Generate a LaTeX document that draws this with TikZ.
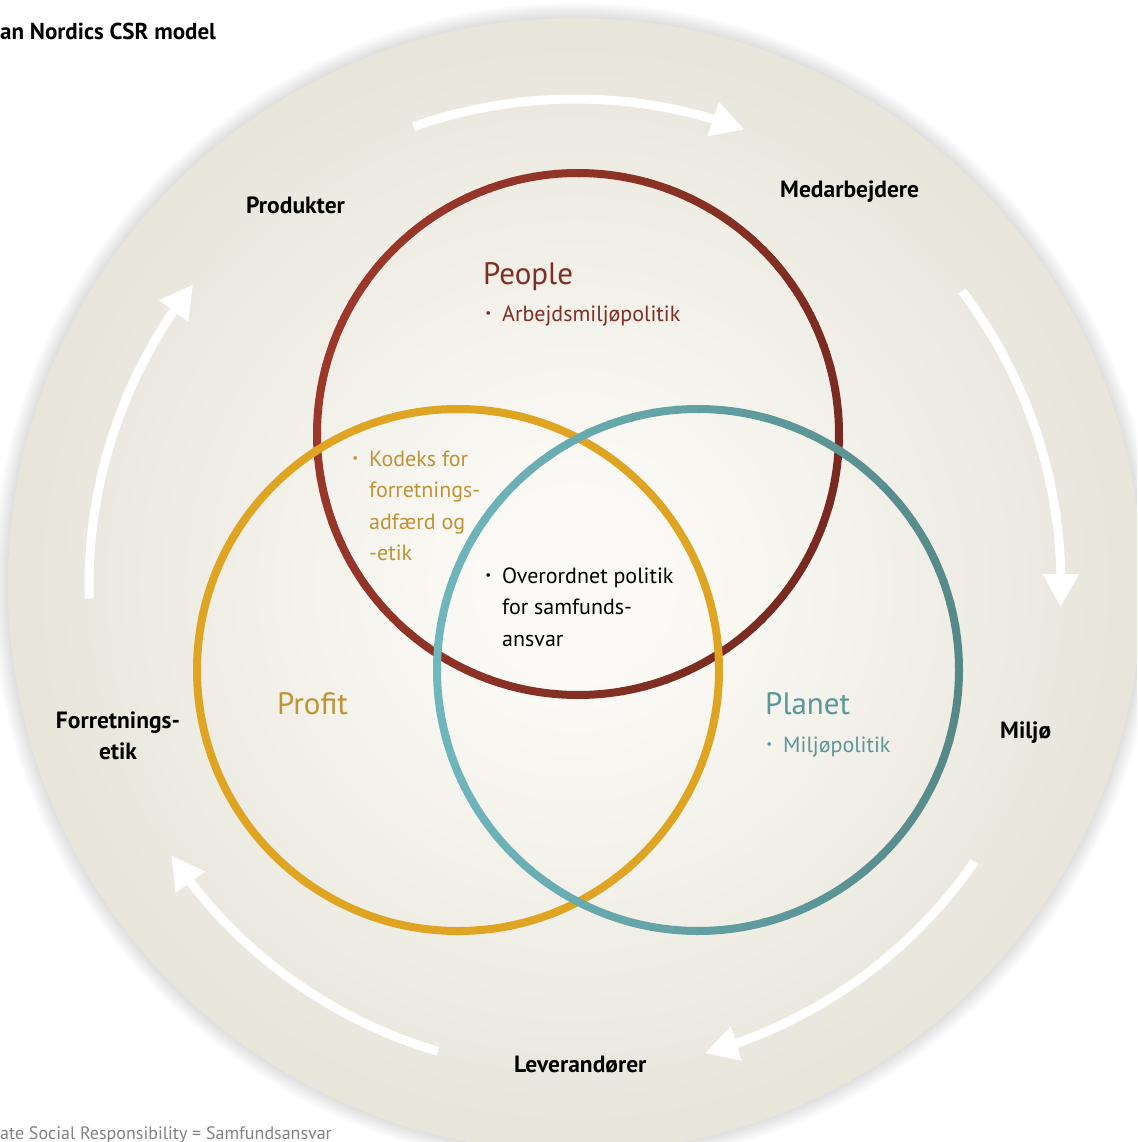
\documentclass[tikz,border=0pt]{standalone}
\usepackage{fontspec}
\setmainfont{PT Sans}
\usetikzlibrary{arrows.meta,bending}

\definecolor{bgA}{RGB}{251,250,246}
\definecolor{bgB}{RGB}{232,230,219}
\definecolor{bgM}{RGB}{224,222,208}
\definecolor{bgC}{RGB}{217,214,198}
\definecolor{rlight}{RGB}{156,55,42}
\definecolor{rdark}{RGB}{120,42,33}
\definecolor{venny}{RGB}{223,165,34}
\definecolor{tlight}{RGB}{111,183,189}
\definecolor{tdark}{RGB}{86,136,137}
\definecolor{peopletxt}{RGB}{128,45,38}
\definecolor{goldtxt}{RGB}{192,147,52}
\definecolor{planettxt}{RGB}{91,150,153}
\definecolor{foottxt}{RGB}{130,130,130}

\pgfdeclareradialshading{bgshade}{\pgfpoint{0bp}{0bp}}{color(0bp)=(bgA); color(4bp)=(bgA); color(24bp)=(bgB); color(40bp)=(bgM); color(50bp)=(bgC)}

\newcommand\mybul{\llap{\raisebox{3.5pt}{\fontsize{13}{13}\selectfont •}\hspace{11pt}}}

\tikzset{
  lab/.style={font=\bfseries\fontsize{23.5}{31}\selectfont, text=black, inner sep=0pt},
  bigname/.style={font=\fontsize{31}{36}\selectfont, inner sep=0pt, anchor=base west},
  small/.style={font=\fontsize{22}{31.5}\selectfont, inner sep=0pt, anchor=base west},
  cyclearrow/.style={draw=white, line width=9pt, -{Triangle[width=34pt,length=33pt,flex]}},
}

\begin{document}
\begin{tikzpicture}[x=1pt,y=-1pt]
\useasboundingbox (0,0) rectangle (1137,1142);
\clip (0,0) rectangle (1137,1142);
\fill[white] (0,0) rectangle (1137,1142);

% soft shadow around the disc
\foreach \i in {1,...,16}{
  \fill[black,opacity=0.008] (575,585) circle[radius=567+\i];
}
% shaded disc
\shade[shading=bgshade] (575,585) circle[radius=567];

% cycle arrows
\foreach \s in {-109.4,-37.2,34.7,106.4,178.4}{
  \draw[cyclearrow] (575,585) ++(\s:486) arc[start angle=\s, delta angle=39.8, radius=486];
}

% People circle (red, shaded along the ring)
\foreach \a in {0,5,...,355}{
  \pgfmathsetmacro\mixp{100*(1+cos(\a+2.5-20))/2}
  \draw[line width=8pt, color=rdark!\mixp!rlight] (578,434) ++(\a:261) arc[start angle=\a, delta angle=5.4, radius=261];
}
% Profit circle
\draw[line width=8pt, venny] (458,670) circle[radius=261];
% Planet circle
\foreach \a in {0,5,...,355}{
  \pgfmathsetmacro\mixp{100*(1+cos(\a+2.5))/2}
  \draw[line width=8pt, color=tdark!\mixp!tlight] (698,670) ++(\a:261) arc[start angle=\a, delta angle=5.4, radius=261];
}

% title and footnote
\node[anchor=base west, font=\bfseries\fontsize{23}{28}\selectfont, inner sep=0pt] (title) at (0,40) {an Nordics CSR model};
\node[anchor=base west, text=foottxt, font=\fontsize{18}{20}\selectfont, inner sep=0pt] (foot) at (0,1139) {ate Social Responsibility = Samfundsansvar};

% outer labels
\node[lab, anchor=base west] (produkter) at (246,213) {Produkter};
\node[lab, anchor=base west] (medarb) at (780,197) {Medarbejdere};
\node[lab, anchor=base west] (miljo) at (1000,738) {Miljø};
\node[lab, anchor=base west] (lev) at (514,1072) {Leverandører};
\node[lab, anchor=base] (forr) at (118,728) {\begin{tabular}[t]{@{}c@{}}Forretnings-\\etik\end{tabular}};

% Venn texts
\node[bigname, text=peopletxt] (people) at (483,284) {People};
\node[small, text=peopletxt] (arb) at (502,321) {\mybul Arbejdsmiljøpolitik};
\node[small, text=goldtxt] (kodeks) at (369,466) {\begin{tabular}[t]{@{}l@{}}\mybul Kodeks for\\forretnings-\\adfærd og\\-etik\end{tabular}};
\node[small, text=black] (over) at (502,583) {\begin{tabular}[t]{@{}l@{}}\mybul Overordnet politik\\for samfunds-\\ansvar\end{tabular}};
\node[bigname, text=goldtxt] (profit) at (277,714) {Profit};
\node[bigname, text=planettxt] (planet) at (765,714) {Planet};
\node[small, text=planettxt] (miljopol) at (783,752) {\mybul Miljøpolitik};
\end{tikzpicture}
\end{document}
